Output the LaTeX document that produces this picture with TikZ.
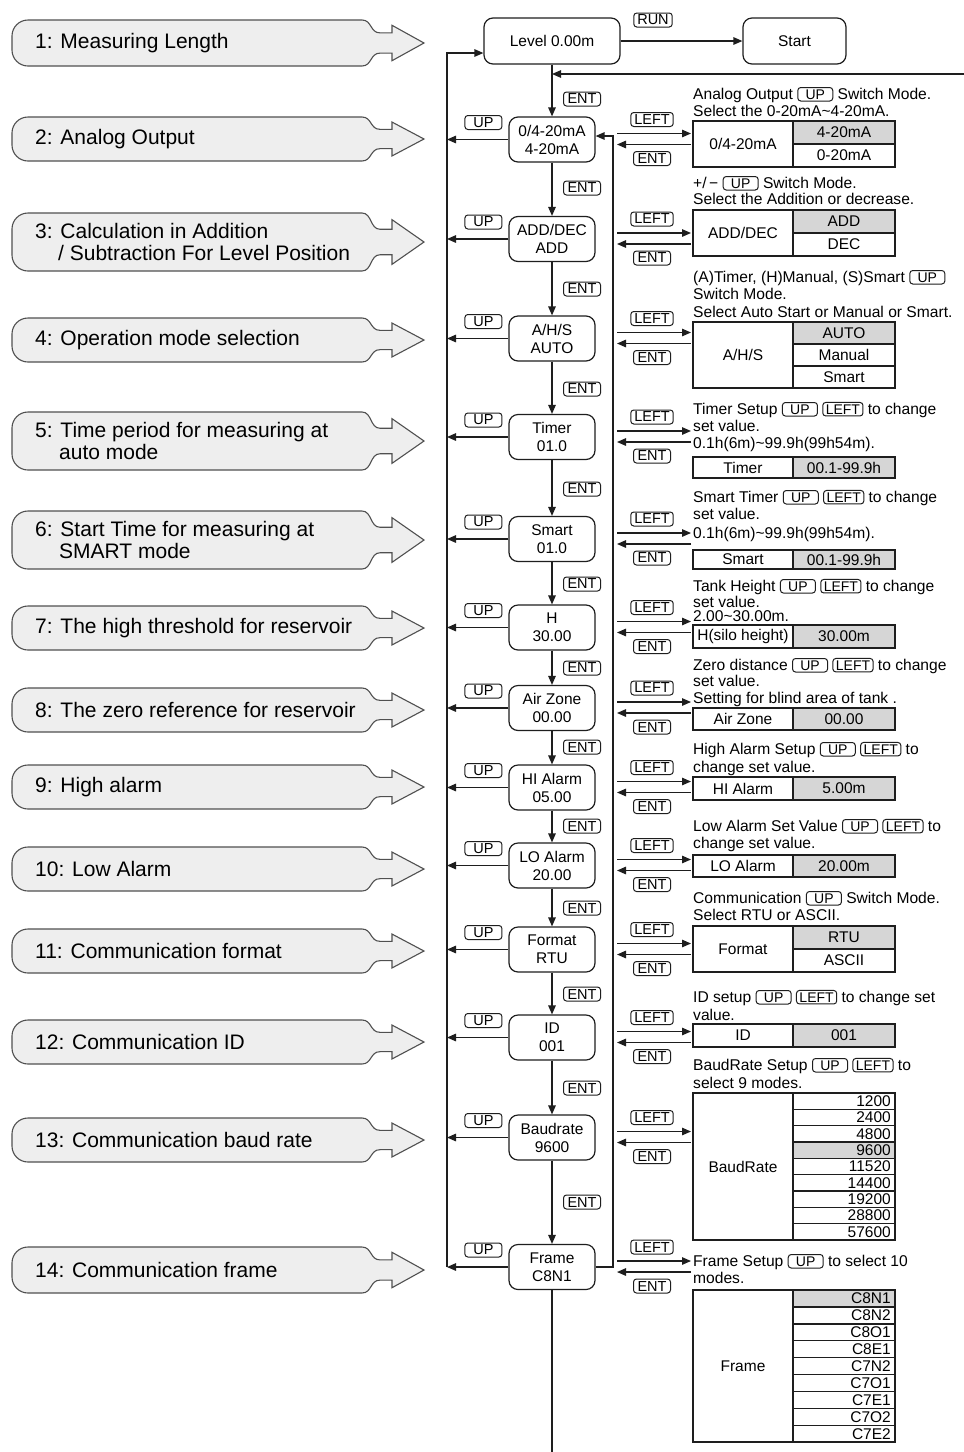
\documentclass[tikz,border=0pt]{standalone}
\usepackage{fontspec}
\setmainfont{Liberation Sans}
\usetikzlibrary{arrows.meta,calc}
\definecolor{ink}{HTML}{1E1E1E}
\definecolor{cellgray}{HTML}{D6D6D6}
\definecolor{callfill}{HTML}{EEEEEE}
\definecolor{calldraw}{HTML}{505050}
\tikzset{
  arr/.style={draw=ink, line width=1.3pt, -{Triangle[length=9pt,width=7.5pt]}},
  wire/.style={draw=ink, line width=1.3pt},
  stepbox/.style={draw=ink, line width=1.2pt, rounded corners=9pt, minimum width=86pt, minimum height=45pt, align=center, inner sep=1pt, font=\fontsize{15.5}{18}\selectfont},
  keyb/.style={draw=ink, line width=1pt, rounded corners=3pt, minimum width=37pt, minimum height=14pt, inner xsep=3.5pt, inner ysep=0.5pt, font=\fontsize{14.5}{14.5}\selectfont},
  ikey/.style={draw=ink, line width=1pt, rounded corners=3pt, minimum width=35pt, minimum height=13.5pt, inner xsep=3pt, inner ysep=0.3pt, font=\fontsize{14}{14}\selectfont},
  desc/.style={anchor=base west, inner sep=0pt, font=\fontsize{15.6}{16}\selectfont},
  tcell/.style={inner sep=0pt, font=\fontsize{15.5}{16}\selectfont},
  tbl/.style={draw=ink, line width=1.4pt},
  callout/.style={fill=callfill, draw=calldraw, line width=1.1pt},
  ctext/.style={anchor=west, inner sep=0pt, align=left, font=\fontsize{21}{22}\selectfont},
}
\newcommand{\kb}[1]{\tikz[baseline=(kk.base)]\node[ikey](kk){#1};}
\newcommand{\callout}[4]{%
  \pgfmathsetmacro{\cT}{#2-#3/2}\pgfmathsetmacro{\cB}{#2+#3/2}%
  \pgfmathsetmacro{\hT}{#2-0.385*#3}\pgfmathsetmacro{\hB}{#2+0.385*#3}%
  \pgfmathsetmacro{\sT}{#2-0.22*#3}\pgfmathsetmacro{\sB}{#2+0.22*#3}%
  \draw[callout] (200,\cT) [rounded corners=16pt] -- (12,\cT) -- (12,\cB) -- (200,\cB) [sharp corners] -- (362,\cB)
     .. controls (372,\cB) and (370,\sB) .. (380,\sB) -- (392,\sB) -- (392,\hB) -- (424,#2) -- (392,\hT) -- (392,\sT) -- (380,\sT)
     .. controls (370,\sT) and (372,\cT) .. (362,\cT) -- cycle;
  \node[ctext] (#1) at (35,#2) {#4};
}
\newcommand{\tabone}[5]{% prefix, top, bottom, left, right
  \fill[cellgray] (793,#2) rectangle (895,#3);
  \draw[tbl] (693,#2) rectangle (895,#3);
  \draw[tbl] (793,#2) -- (793,#3);
  \node[tcell] (#1l) at (743,{(#2+#3)/2}) {#4};
  \node[tcell] (#1r) at (844,{(#2+#3)/2}) {#5};
}
\newcommand{\tabmulti}[8]{% prefix, top, rowh, n, left, gray idx, align c/r, items
  \pgfmathsetmacro{\tBot}{#2+#4*#3}%
  \fill[cellgray] (793,{#2+(#6-1)*#3}) rectangle (895,{#2+#6*#3});
  \draw[tbl] (693,#2) rectangle (895,\tBot);
  \draw[tbl] (793,#2) -- (793,\tBot);
  \foreach \k in {2,...,#4}{\draw[tbl] (793,{#2+(\k-1)*#3}) -- (895,{#2+(\k-1)*#3});}
  \node[tcell] (#1l) at (743,{(#2+\tBot)/2}) {#5};
  \foreach \itm [count=\k] in {#8}{%
    \ifx c#7 \node[tcell] (#1r\k) at (844,{#2+(\k-0.5)*#3}) {\itm};%
    \else \node[tcell,anchor=east] (#1r\k) at (891,{#2+(\k-0.5)*#3}) {\itm};\fi}
}
\newcommand{\sidearrows}[2]{% suffix, centre y
  \coordinate (la#1) at (617,{#2-6}); \coordinate (lb#1) at (691,{#2-6});
  \coordinate (ea#1) at (691,{#2+5}); \coordinate (eb#1) at (617,{#2+5});
  \draw[arr] (la#1) -- (lb#1);
  \draw[arr] (ea#1) -- (eb#1);
  \node[keyb] (kl#1) at (652,{#2-20}) {LEFT};
  \node[keyb] (ke#1) at (652,{#2+19}) {ENT};
}
\newcommand{\upconn}[1]{%
  \draw[arr] (#1.west) -- (#1.west -| Lx);
  \node[keyb] (up#1) at ($(#1.west)+(-25,-17)$) {UP};
}
\begin{document}
\begin{tikzpicture}[x=1pt,y=-1pt]
\fill[white] (0,0) rectangle (964,1452);
\useasboundingbox (0,0) rectangle (964,1452);

% ---------- left callouts ----------
\callout{c1}{43}{46}{1: Measuring Length}
\callout{c2}{139}{44}{2: Analog Output}
\callout{c3}{242}{58}{3: Calculation in Addition\\\hspace*{23pt}/ Subtraction For Level Position}
\callout{c4}{340}{44}{4: Operation mode selection}
\callout{c5}{441}{58}{5: Time period for measuring at\\\hspace*{24pt}auto mode}
\callout{c6}{540}{58}{6: Start Time for measuring at\\\hspace*{24pt}SMART mode}
\callout{c7}{628}{44}{7: The high threshold for reservoir}
\callout{c8}{710}{44}{8: The zero reference for reservoir}
\callout{c9}{787}{44}{9: High alarm}
\callout{c10}{869}{44}{10: Low Alarm}
\callout{c11}{951}{44}{11: Communication format}
\callout{c12}{1042}{44}{12: Communication ID}
\callout{c13}{1140}{44}{13: Communication baud rate}
\callout{c14}{1270}{46}{14: Communication frame}

% ---------- main column ----------
\node[stepbox, minimum width=136pt, minimum height=46pt] (lv) at (552,41) {Level 0.00m};
\node[stepbox, minimum width=103pt, minimum height=46pt] (st) at (794.5,41) {Start};
\node[keyb] (run) at (653,20) {RUN};
\draw[arr] (lv) -- (st);

\node[stepbox] (n2) at (552,139.5) {0/4-20mA\\4-20mA};
\node[stepbox] (n3) at (552,239) {ADD/DEC\\ADD};
\node[stepbox] (n4) at (552,338.5) {A/H/S\\AUTO};
\node[stepbox] (n5) at (552,437) {Timer\\01.0};
\node[stepbox] (n6) at (552,539) {Smart\\01.0};
\node[stepbox] (n7) at (552,627.5) {H\\30.00};
\node[stepbox] (n8) at (552,708) {Air Zone\\00.00};
\node[stepbox] (n9) at (552,787.5) {HI Alarm\\05.00};
\node[stepbox] (n10) at (552,865.5) {LO Alarm\\20.00};
\node[stepbox] (n11) at (552,949.5) {Format\\RTU};
\node[stepbox] (n12) at (552,1037.5) {ID\\001};
\node[stepbox] (n13) at (552,1137.5) {Baudrate\\9600};
\node[stepbox] (n14) at (552,1267) {Frame\\C8N1};

\foreach \a/\b in {lv/n2,n2/n3,n3/n4,n4/n5,n5/n6,n6/n7,n7/n8,n8/n9,n9/n10,n10/n11,n11/n12,n12/n13,n13/n14}
  \draw[arr] (\a.south) -- (\b.north);
\foreach \y [count=\i] in {99,188,289,389,489,584,668,747,826,908,994,1088,1202}
  \node[keyb] (me\i) at (582,\y) {ENT};

% left return line
\coordinate (Lx) at (447,0);
\coordinate (Ltop) at (447,53);
\coordinate (Lbot) at (447,1267);
\draw[arr] (Lbot) -- (Ltop) -- (Ltop -| lv.west);
\foreach \n in {n2,n3,n4,n5,n6,n7,n8,n9,n10,n11,n12,n13,n14} {\upconn{\n}}

% right return line
\coordinate (Rb) at (613,1267);
\coordinate (Rt) at (613,136);
\draw[arr] (n14.east) -- (Rb) -- (Rt) -- (Rt -| n2.east);

% top return from the right
\coordinate (Rin) at (964,74);
\draw[arr] (Rin) -- (Rin -| lv.south);

% bottom continuation
\coordinate (Bot) at (552,1452);
\draw[wire] (n14.south) -- (Bot);

% ---------- side arrows ----------
\sidearrows{2}{139.5}
\sidearrows{3}{239}
\sidearrows{4}{338.5}
\sidearrows{5}{437}
\sidearrows{6}{539}
\sidearrows{7}{627.5}
\sidearrows{8}{708}
\sidearrows{9}{787.5}
\sidearrows{10}{865.5}
\sidearrows{11}{949.5}
\sidearrows{12}{1037.5}
\sidearrows{13}{1137.5}
\sidearrows{14}{1267}

% ---------- descriptions ----------
\node[desc] (d2a) at (693,99) {Analog Output \kb{UP} Switch Mode.};
\node[desc] (d2b) at (693,116) {Select the 0-20mA\textasciitilde 4-20mA.};
\node[desc] (d3a) at (693,188) {+/\,\textminus\ \kb{UP} Switch Mode.};
\node[desc] (d3b) at (693,204) {Select the Addition or decrease.};
\node[desc] (d4a) at (693,282) {(A)Timer, (H)Manual, (S)Smart \kb{UP}};
\node[desc] (d4b) at (693,299) {Switch Mode.};
\node[desc] (d4c) at (693,317) {Select Auto Start or Manual or Smart.};
\node[desc] (d5a) at (693,414) {Timer Setup \kb{UP} \kb{LEFT} to change};
\node[desc] (d5b) at (693,431) {set value.};
\node[desc] (d5c) at (693,448) {0.1h(6m)\textasciitilde 99.9h(99h54m).};
\node[desc] (d6a) at (693,502) {Smart Timer \kb{UP} \kb{LEFT} to change};
\node[desc] (d6b) at (693,519) {set value.};
\node[desc] (d6c) at (693,538) {0.1h(6m)\textasciitilde 99.9h(99h54m).};
\node[desc] (d7a) at (693,591) {Tank Height \kb{UP} \kb{LEFT} to change};
\node[desc] (d7b) at (693,607) {set value.};
\node[desc] (d7c) at (693,621) {2.00\textasciitilde 30.00m.};
\node[desc] (d8a) at (693,670) {Zero distance \kb{UP} \kb{LEFT} to change};
\node[desc] (d8b) at (693,686) {set value.};
\node[desc] (d8c) at (693,703) {Setting for blind area of tank .};
\node[desc] (d9a) at (693,754) {High Alarm Setup \kb{UP} \kb{LEFT} to};
\node[desc] (d9b) at (693,772) {change set value.};
\node[desc] (d10a) at (693,831) {Low Alarm Set Value \kb{UP} \kb{LEFT} to};
\node[desc] (d10b) at (693,848) {change set value.};
\node[desc] (d11a) at (693,903) {Communication \kb{UP} Switch Mode.};
\node[desc] (d11b) at (693,920) {Select RTU or ASCII.};
\node[desc] (d12a) at (693,1002) {ID setup \kb{UP} \kb{LEFT} to change set};
\node[desc] (d12b) at (693,1020) {value.};
\node[desc] (d13a) at (693,1070) {BaudRate Setup \kb{UP} \kb{LEFT} to};
\node[desc] (d13b) at (693,1088) {select 9 modes.};
\node[desc] (d14a) at (693,1266) {Frame Setup \kb{UP} to select 10};
\node[desc] (d14b) at (693,1283) {modes.};

% ---------- tables ----------
\tabmulti{t2}{121}{23}{2}{0/4-20mA}{1}{c}{4-20mA,0-20mA}
\tabmulti{t3}{210}{23}{2}{ADD/DEC}{1}{c}{ADD,DEC}
\tabmulti{t4}{322}{22}{3}{A/H/S}{1}{c}{AUTO,Manual,Smart}
\tabone{t5}{457}{478}{Timer}{00.1-99.9h}
\tabone{t6}{550}{569}{Smart}{00.1-99.9h}
\tabone{t7}{625}{648}{H(silo height)}{30.00m}
\tabone{t8}{708}{730}{Air Zone}{00.00}
\tabone{t9}{777}{800}{HI Alarm}{5.00m}
\tabone{t10}{855}{877}{LO Alarm}{20.00m}
\tabmulti{t11}{926}{23}{2}{Format}{1}{c}{RTU,ASCII}
\tabone{t12}{1024}{1047}{ID}{001}
\tabmulti{t13}{1093}{16.33}{9}{BaudRate}{4}{r}{1200,2400,4800,9600,11520,14400,19200,28800,57600}
\tabmulti{t14}{1290}{16.9}{9}{Frame}{1}{r}{C8N1,C8N2,C8O1,C8E1,C7N2,C7O1,C7E1,C7O2,C7E2}
\end{tikzpicture}
\end{document}
